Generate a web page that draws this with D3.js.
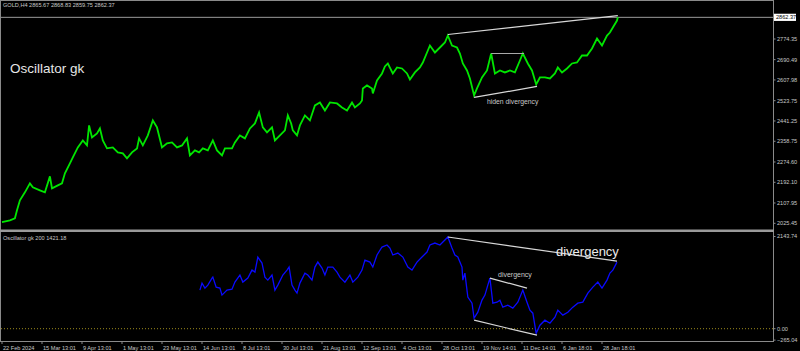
<!DOCTYPE html>
<html>
<head>
<meta charset="utf-8">
<script src="https://cdn.jsdelivr.net/npm/d3@7"></script>
<style>
  body { margin: 0; background: #000; }
  svg { display: block; font-family: "Liberation Sans", Arial, sans-serif; }
</style>
</head>
<body>
<div id="chart"></div>
<script>
// GOLD H4 closes, [bar number since 22 Feb 2024, price]
var price = [
  [0,2030.7],[19,2037.6],[31,2045.7],[36,2078.2],[43,2118.8],[55,2151.3],[67,2187.8],[74,2171.6],
  [91,2159.4],[103,2151.3],[115,2216.2],[120,2167.5],[134,2179.7],[144,2187.8],[151,2228.4],[163,2269.0],
  [170,2293.3],[182,2333.9],[194,2362.3],[204,2342.0],[209,2423.2],[216,2374.5],[228,2390.8],[235,2411.0],
  [242,2362.3],[252,2329.9],[266,2333.9],[278,2313.6],[290,2309.6],[300,2289.3],[312,2313.6],[324,2329.9],
  [329,2370.5],[338,2342.0],[350,2382.6],[362,2443.5],[372,2415.1],[384,2333.9],[396,2350.2],[408,2354.2],
  [420,2333.9],[432,2342.0],[444,2370.5],[451,2301.5],[463,2321.7],[473,2313.6],[482,2329.9],[494,2321.7],
  [506,2362.3],[516,2321.7],[528,2301.5],[535,2329.9],[552,2329.9],[559,2354.2],[571,2382.6],[583,2370.5],
  [595,2411.0],[607,2431.3],[617,2476.0],[626,2415.1],[636,2394.8],[648,2415.1],[655,2362.3],[667,2382.6],
  [679,2402.9],[686,2463.8],[694,2431.3],[698,2402.9],[708,2382.6],[715,2423.2],[727,2463.8],[739,2443.5],
  [751,2504.4],[763,2516.6],[775,2484.1],[787,2516.6],[804,2512.5],[816,2496.3],[828,2484.1],[840,2516.6],
  [847,2496.3],[859,2512.5],[864,2524.7],[866,2573.4],[876,2585.6],[888,2573.4],[890,2553.1],[900,2605.9],
  [912,2634.3],[919,2662.7],[926,2674.9],[938,2634.3],[948,2658.6],[960,2654.6],[972,2634.3],[979,2609.9],
  [991,2638.4],[1003,2658.6],[1010,2678.9],[1027,2747.9],[1039,2719.5],[1051,2739.8],[1063,2760.1],[1070,2788.5],
  [1080,2747.9],[1092,2739.8],[1099,2715.5],[1106,2674.9],[1116,2646.5],[1123,2614.0],[1133,2545.0],[1140,2573.4],
  [1152,2618.1],[1164,2646.5],[1174,2715.5],[1183,2634.3],[1195,2646.5],[1207,2638.4],[1219,2646.5],[1231,2638.4],
  [1243,2687.1],[1250,2715.5],[1262,2674.9],[1272,2646.5],[1282,2589.6],[1291,2618.1],[1303,2618.1],[1315,2614.0],
  [1327,2634.3],[1334,2658.6],[1344,2638.4],[1356,2654.6],[1368,2674.9],[1380,2678.9],[1392,2707.4],[1404,2707.4],
  [1416,2735.8],[1428,2776.4],[1440,2747.9],[1452,2788.5],[1459,2800.7],[1466,2821.0],[1476,2849.4],[1478,2862.4]
];

// Oscillator gk(200), [bar, value]
var osc = [
  [475,897],[480,1060],[487,944],[494,1014],[504,1177],[506,1200],[514,967],[523,944],
  [528,781],[540,897],[552,920],[559,1083],[571,1247],[578,1083],[590,1177],[600,1363],
  [607,1316],[614,1666],[624,1526],[631,1200],[638,1130],[648,1247],[655,897],[662,1014],
  [674,1247],[684,1363],[689,1433],[696,1014],[703,897],[708,827],[715,1060],[727,1293],
  [734,1247],[744,1130],[751,1433],[758,1549],[768,1410],[775,1247],[782,1433],[794,1433],
  [804,1316],[811,1200],[823,1083],[835,1247],[842,1083],[854,1200],[864,1363],[871,1596],
  [883,1549],[890,1433],[900,1713],[912,1899],[924,1946],[931,1876],[938,1713],[950,1759],
  [962,1666],[974,1433],[984,1363],[996,1549],[1008,1666],[1020,1782],[1027,1946],[1039,1992],
  [1051,1946],[1063,2062],[1070,2132],[1080,1876],[1087,1713],[1094,1666],[1104,1433],[1106,1130],
  [1111,1293],[1118,734],[1128,594],[1133,245],[1142,384],[1152,664],[1159,781],[1166,1014],
  [1171,1177],[1178,594],[1188,617],[1195,664],[1202,501],[1214,548],[1226,478],[1238,617],
  [1250,897],[1260,617],[1267,431],[1274,361],[1282,-105],[1291,82],[1303,198],[1315,128],
  [1327,268],[1334,431],[1346,315],[1358,384],[1370,501],[1382,594],[1394,617],[1406,827],
  [1418,967],[1430,1083],[1440,944],[1452,1130],[1459,1293],[1466,1363],[1476,1549]
];

// time axis labels, one every 96 bars
var dateLabels = ["22 Feb 2024", "15 Mar 13:01", "9 Apr 13:01", "1 May 13:01", "23 May 13:01",
  "14 Jun 13:01", "8 Jul 13:01", "30 Jul 13:01", "21 Aug 13:01", "12 Sep 13:01", "4 Oct 13:01",
  "28 Oct 13:01", "19 Nov 14:01", "11 Dec 14:01", "6 Jan 18:01", "28 Jan 18:01"];
var priceTicks = [2774.35, 2690.49, 2607.98, 2523.75, 2441.25, 2358.75, 2274.60, 2192.10, 2107.95, 2025.45];
var oscTicks = [2143.74, 0.00, -265.04];
var lastPrice = 2862.37;
var ohlc = [2865.67, 2868.83, 2859.75, 2862.37];

// hand drawn trend lines [bar1, value1, bar2, value2]
var priceLines = [[1070, 2792.6, 1478, 2869.7], [1174, 2715.5, 1253, 2715.5], [1133, 2536.9, 1284, 2581.5]];
var oscLines = [[1070, 2132, 1476, 1573], [1171, 1177, 1260, 944], [1133, 198, 1284, -151]];

  ///////////////////////////////////////////////////////////
 // ---------------------- SETUP ------------------------ //
///////////////////////////////////////////////////////////

var width = 800, height = 351;
var axisX = 773, axisY = 341;

var svg = d3.select("#chart").append("svg")
            .attr("width", width)
            .attr("height", height)
            .style("background", "#000");

// 96 bars take 40 px on the time axis
var x = d3.scaleLinear().domain([0, 96]).range([2, 42]);
var yPrice = d3.scaleLinear().domain([2025.45, 2774.35]).range([223.3, 39]);
var yOsc = d3.scaleLinear().domain([0, 2143.74]).range([328.7, 236.5]);

var grey = "#c8c8c8";

// frame and pane separator
svg.append("rect")
   .attr("x", 0.5).attr("y", 0.5)
   .attr("width", axisX).attr("height", axisY)
   .attr("fill", "none")
   .attr("stroke", "#8a8a8a");
svg.append("rect")
   .attr("x", 0).attr("y", 229.5)
   .attr("width", axisX + 1).attr("height", 2.5)
   .attr("fill", "#9a9a9a");

  ///////////////////////////////////////////////////////////
 // ---------------------- AXES ------------------------- //
///////////////////////////////////////////////////////////

var xTicks = svg.append("g").selectAll("g")
                .data(dateLabels)
                .enter().append("g")
                .attr("transform", function(d, i) { return "translate(" + x(i * 96) + "," + axisY + ")"; });
xTicks.append("line")
      .attr("y1", 0).attr("y2", 3)
      .attr("stroke", "#8a8a8a");
xTicks.append("text")
      .attr("x", 1).attr("y", 8.5)
      .attr("fill", grey)
      .style("font-size", "5.6px")
      .text(function(d) { return d; });

function rightAxis(ticks, scale) {
  var g = svg.append("g").selectAll("g")
             .data(ticks)
             .enter().append("g")
             .attr("transform", function(d) { return "translate(" + axisX + "," + scale(d) + ")"; });
  g.append("line").attr("x1", 0).attr("x2", 2.5).attr("stroke", "#8a8a8a");
  g.append("text")
   .attr("x", 4).attr("dy", "0.35em")
   .attr("fill", grey)
   .style("font-size", "5.6px")
   .text(function(d) { return d3.format(".2f")(d); });
}
rightAxis(priceTicks, yPrice);
rightAxis(oscTicks, yOsc);

// bid line and its label
svg.append("line")
   .attr("x1", 1).attr("x2", axisX)
   .attr("y1", yPrice(lastPrice)).attr("y2", yPrice(lastPrice))
   .attr("stroke", "#9a9a9a");
svg.append("rect")
   .attr("x", axisX + 1).attr("y", yPrice(lastPrice) - 3.6)
   .attr("width", 22).attr("height", 7.2)
   .attr("fill", "#fff");
svg.append("text")
   .attr("x", axisX + 3).attr("y", yPrice(lastPrice))
   .attr("dy", "0.35em")
   .style("font-size", "5.6px")
   .attr("fill", "#000")
   .text(d3.format(".2f")(lastPrice));

// zero level of the oscillator
svg.append("line")
   .attr("x1", 1).attr("x2", axisX)
   .attr("y1", yOsc(0)).attr("y2", yOsc(0))
   .attr("stroke", "#9c8a1c")
   .attr("stroke-dasharray", "1,2");

  ///////////////////////////////////////////////////////////
 // ---------------------- SERIES ----------------------- //
///////////////////////////////////////////////////////////

var priceLine = d3.line()
                  .x(function(d) { return x(d[0]); })
                  .y(function(d) { return yPrice(d[1]); });
var oscLine = d3.line()
                .x(function(d) { return x(d[0]); })
                .y(function(d) { return yOsc(d[1]); });

svg.append("path")
   .attr("d", priceLine(price))
   .attr("fill", "none")
   .attr("stroke", "#00e600")
   .attr("stroke-width", 1.8);

svg.append("path")
   .attr("d", oscLine(osc))
   .attr("fill", "none")
   .attr("stroke", "#0a0aff")
   .attr("stroke-width", 1.3);

// trend lines
svg.append("g").selectAll("line")
   .data(priceLines)
   .enter().append("line")
   .attr("x1", function(d) { return x(d[0]); })
   .attr("y1", function(d) { return yPrice(d[1]); })
   .attr("x2", function(d) { return x(d[2]); })
   .attr("y2", function(d) { return yPrice(d[3]); })
   .attr("stroke", function(d, i) { return i == 1 ? "#a8a8a8" : "#d8d8d8"; })
   .attr("stroke-width", 1.2);

svg.append("g").selectAll("line")
   .data(oscLines)
   .enter().append("line")
   .attr("x1", function(d) { return x(d[0]); })
   .attr("y1", function(d) { return yOsc(d[1]); })
   .attr("x2", function(d) { return x(d[2]); })
   .attr("y2", function(d) { return yOsc(d[3]); })
   .attr("stroke", "#d8d8d8")
   .attr("stroke-width", 1.2);

  ///////////////////////////////////////////////////////////
 // ---------------------- TEXTS ------------------------ //
///////////////////////////////////////////////////////////

svg.append("text")
   .attr("x", 3).attr("y", 7)
   .attr("fill", grey)
   .style("font-size", "5.6px")
   .text("GOLD,H4  " + ohlc.map(d3.format(".2f")).join(" "));

svg.append("text")
   .attr("x", 3).attr("y", 239.5)
   .attr("fill", grey)
   .style("font-size", "5.6px")
   .text("Oscillator gk 200 1421.18");

svg.append("text")
   .attr("x", 10).attr("y", 72.5)
   .attr("fill", "#e6e6e6")
   .style("font-size", "13.5px")
   .text("Oscillator gk");

svg.append("text")
   .attr("x", 487).attr("y", 104)
   .attr("fill", grey)
   .style("font-size", "6.8px")
   .text("hiden divergency");

svg.append("text")
   .attr("x", 498).attr("y", 277)
   .attr("fill", grey)
   .style("font-size", "7px")
   .text("divergency");

svg.append("text")
   .attr("x", 556).attr("y", 255.5)
   .attr("fill", "#ececec")
   .style("font-size", "13px")
   .text("divergency");
</script>
</body>
</html>
